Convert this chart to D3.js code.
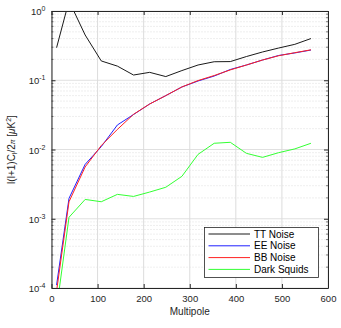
<!DOCTYPE html>
<html>
<head>
<meta charset="utf-8">
<script src="https://cdn.jsdelivr.net/npm/d3@7"></script>
<style>
  body { margin: 0; background: #fff; }
  text { font-family: "Liberation Sans", Arial, sans-serif; }
</style>
</head>
<body>
<div id="chart"></div>
<script>
// multipole bins
var ell = [11, 38, 73, 108, 143, 178, 213, 248, 283, 318, 353, 388, 423, 458, 493, 528, 563];

var ttNoise = [0.295, 1.4, 0.45, 0.19, 0.16, 0.119, 0.13, 0.113, 0.138, 0.166, 0.185, 0.186, 0.22, 0.256, 0.292, 0.33, 0.40];
var eeNoise = [1.1e-4, 0.00197, 0.0061, 0.011, 0.0226, 0.032, 0.0454, 0.060, 0.080, 0.0975, 0.115, 0.143, 0.166, 0.196, 0.228, 0.248, 0.273];
var bbNoise = [0.9e-4, 0.00176, 0.0056, 0.0114, 0.0195, 0.0322, 0.0454, 0.060, 0.080, 0.099, 0.117, 0.141, 0.166, 0.196, 0.226, 0.25, 0.275];
var darkSquids = [5e-5, 0.00105, 0.0019, 0.00176, 0.00225, 0.0021, 0.00243, 0.00285, 0.0041, 0.0085, 0.0123, 0.0127, 0.0088, 0.0077, 0.009, 0.0102, 0.0123];

var seriesNames = ["TT Noise", "EE Noise", "BB Noise", "Dark Squids"];
var seriesColors = ["#1a1a1a", "#2020ff", "#ff2020", "#33ff33"];
var seriesData = [ttNoise, eeNoise, bbNoise, darkSquids];

var xTicks = [0, 100, 200, 300, 400, 500, 600];
var yExps = [0, -1, -2, -3, -4];

var svgWidth = 341, svgHeight = 328;
var margin = {top: 11, right: 13, bottom: 40, left: 51.5};
var width = svgWidth - margin.left - margin.right;
var height = svgHeight - margin.top - margin.bottom;

var svg = d3.select("#chart").append("svg")
    .attr("width", svgWidth)
    .attr("height", svgHeight);

var g = svg.append("g")
    .attr("transform", "translate(" + margin.left + "," + margin.top + ")");

var x = d3.scaleLinear().domain([0, 600]).range([0, width]);
var y = d3.scaleLog().domain([1e-4, 1]).range([height, 0]);

// minor y values
var minorY = [];
for (var e = -4; e < 0; e++) {
    for (var m = 2; m <= 9; m++) minorY.push(m * Math.pow(10, e));
}

// grid
g.append("g").selectAll("line")
    .data(minorY).enter().append("line")
    .attr("x1", 0).attr("x2", width)
    .attr("y1", d => y(d)).attr("y2", d => y(d))
    .attr("stroke", "#d0d0d0").attr("stroke-width", 0.7)
    .attr("stroke-dasharray", "1,2");

g.append("g").selectAll("line")
    .data(yExps).enter().append("line")
    .attr("x1", 0).attr("x2", width)
    .attr("y1", d => y(Math.pow(10, d))).attr("y2", d => y(Math.pow(10, d)))
    .attr("stroke", "#e0e0e0").attr("stroke-width", 1);

g.append("g").selectAll("line")
    .data(xTicks).enter().append("line")
    .attr("x1", d => x(d)).attr("x2", d => x(d))
    .attr("y1", 0).attr("y2", height)
    .attr("stroke", "#dcdcdc").attr("stroke-width", 1);

// clip
svg.append("defs").append("clipPath").attr("id", "clip")
    .append("rect").attr("width", width).attr("height", height);

var line = d3.line()
    .x((d, i) => x(ell[i]))
    .y(d => y(d));

var plot = g.append("g").attr("clip-path", "url(#clip)");
seriesData.forEach(function(s, i) {
    plot.append("path")
        .datum(s)
        .attr("d", line)
        .attr("fill", "none")
        .attr("stroke", seriesColors[i])
        .attr("stroke-width", 1);
});

// axes box
var axisColor = "#262626";
var bottomAxis = d3.axisBottom(x).tickValues(xTicks).tickSize(-4).tickSizeOuter(0).tickPadding(7);
var topAxis = d3.axisTop(x).tickValues(xTicks).tickSize(-4).tickSizeOuter(0).tickFormat("");
var leftAxis = d3.axisLeft(y).tickValues(yExps.map(d => Math.pow(10, d))).tickSize(-4).tickSizeOuter(0).tickFormat("");
var rightAxis = d3.axisRight(y).tickValues(yExps.map(d => Math.pow(10, d))).tickSize(-4).tickSizeOuter(0).tickFormat("");

var gx = g.append("g").attr("transform", "translate(0," + height + ")").call(bottomAxis);
g.append("g").call(topAxis);
var gy = g.append("g").call(leftAxis);
g.append("g").attr("transform", "translate(" + width + ",0)").call(rightAxis);

// minor ticks left & right
g.append("g").selectAll("line").data(minorY).enter().append("line")
    .attr("x1", 0).attr("x2", 2).attr("y1", d => y(d)).attr("y2", d => y(d))
    .attr("stroke", axisColor).attr("stroke-width", 0.6);
g.append("g").selectAll("line").data(minorY).enter().append("line")
    .attr("x1", width - 2).attr("x2", width).attr("y1", d => y(d)).attr("y2", d => y(d))
    .attr("stroke", axisColor).attr("stroke-width", 0.6);

svg.selectAll(".domain").attr("stroke", axisColor);
svg.selectAll(".tick line").attr("stroke", axisColor);
gx.selectAll("text").attr("fill", axisColor).style("font-size", "9.5px")
    .style("font-family", "Liberation Sans, Arial, sans-serif");

// y tick labels with superscripts
var yl = g.append("g").selectAll("text")
    .data(yExps).enter().append("text")
    .attr("x", -6).attr("y", d => y(Math.pow(10, d)) + 4)
    .attr("text-anchor", "end")
    .attr("fill", axisColor)
    .style("font-size", "9.5px");
yl.append("tspan").text("10");
yl.append("tspan").attr("dy", -4).style("font-size", "7px").text(d => d);

// axis labels
g.append("text")
    .attr("x", width / 2).attr("y", height + 27)
    .attr("text-anchor", "middle")
    .attr("fill", axisColor)
    .style("font-size", "10px")
    .text("Multipole");

var ylab = g.append("text")
    .attr("transform", "translate(" + (-37) + "," + (height / 2) + ") rotate(-90)")
    .attr("text-anchor", "middle")
    .attr("fill", axisColor)
    .style("font-size", "10px");
ylab.append("tspan").text("l(l+1)C");
ylab.append("tspan").attr("dy", 2).style("font-size", "7px").text("l");
ylab.append("tspan").attr("dy", -2).text("/2");
ylab.append("tspan").style("font-size", "7px").style("font-style", "italic").text("\u03c0");
ylab.append("tspan").text(" [");
ylab.append("tspan").style("font-style", "italic").text("\u03bc");
ylab.append("tspan").text("K");
ylab.append("tspan").attr("dy", -4).style("font-size", "7px").text("2");
ylab.append("tspan").attr("dy", 4).text("]");

// legend
var lg = svg.append("g").attr("transform", "translate(204.5,227.5)");
lg.append("rect")
    .attr("width", 114).attr("height", 50)
    .attr("fill", "#fff").attr("stroke", axisColor).attr("stroke-width", 0.8);
seriesNames.forEach(function(name, i) {
    var yy = 6.5 + i * 11.8;
    lg.append("line")
        .attr("x1", 4).attr("x2", 45.5)
        .attr("y1", yy).attr("y2", yy)
        .attr("stroke", seriesColors[i]).attr("stroke-width", 1);
    lg.append("text")
        .attr("x", 49.5).attr("y", yy + 3.6)
        .attr("fill", "#000")
        .style("font-size", "10px")
        .text(name);
});
</script>
</body>
</html>
